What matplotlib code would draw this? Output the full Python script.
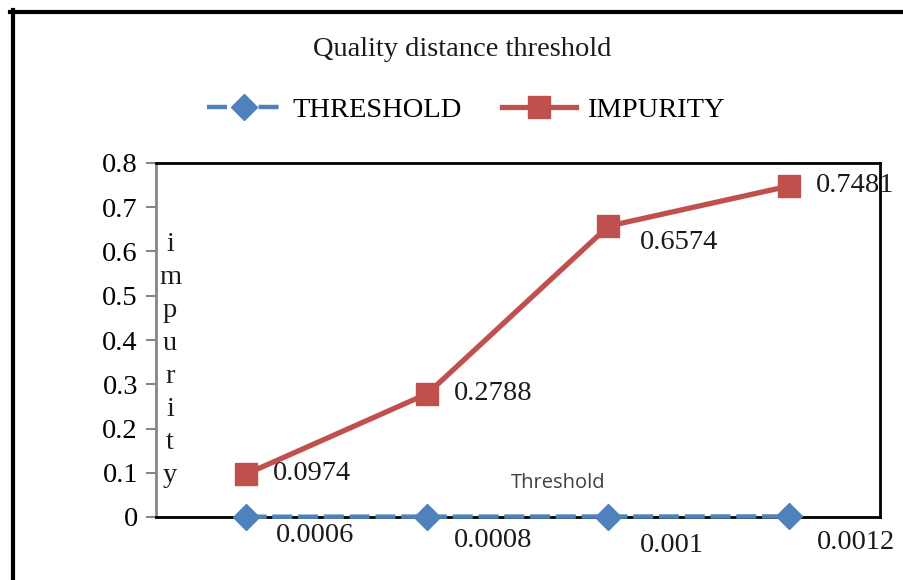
import numpy as np
import matplotlib.pyplot as plt
from matplotlib.lines import Line2D

# data
thresholds = [0.0006, 0.0008, 0.001, 0.0012]
threshold_labels = ['0.0006', '0.0008', '0.001', '0.0012']
impurity = [0.0974, 0.2788, 0.6574, 0.7481]
impurity_labels = ['0.0974', '0.2788', '0.6574', '0.7481']

blue = '#4F81BD'
red = '#C0504D'
serif = 'Liberation Serif'
fs = 20.5

plt.rcParams['font.family'] = serif

fig = plt.figure(figsize=(9.04, 5.8), dpi=100)
ax = fig.add_axes([156/904, 1-517/580, 724/904, 354/580])

x = np.arange(len(thresholds))
ax.plot(x, thresholds, color=blue, lw=3.2, ls=(0, (4.5, 1.3)), marker='D',
        ms=13, mec=blue, label='THRESHOLD', zorder=4, clip_on=False)
ax.plot(x, impurity, color=red, lw=3.8, marker='s', ms=16, mec=red,
        label='IMPURITY', zorder=5, clip_on=False)

# data labels for impurity
offs = [(26, 0), (26, 0), (31, -16), (26, 0)]
for i, (v, lab) in enumerate(zip(impurity, impurity_labels)):
    ax.annotate(lab, (x[i], v), xytext=offs[i], textcoords='offset pixels',
                ha='left', va='center', fontsize=fs, color='#1a1a1a')

# data labels for threshold (below-right of the points)
toffs = [(69, -19), (66, -24), (63, -29), (67, -26)]
for i, (v, lab) in enumerate(zip(thresholds, threshold_labels)):
    ax.annotate(lab, (x[i], v), xytext=toffs[i], textcoords='offset pixels',
                ha='center', va='center', fontsize=fs, color='#1a1a1a')

ax.set_xlim(-0.5, 3.5)
ax.set_ylim(0, 0.8)
ax.set_yticks(np.arange(0, 0.81, 0.1))
ax.set_yticklabels(['0'] + ['%.1f' % t for t in np.arange(0.1, 0.81, 0.1)])
ax.set_xticks([])
ax.tick_params(axis='y', direction='out', length=7, width=1.5, color='#868686',
               labelsize=fs, pad=6)
for s in ['top', 'right', 'bottom']:
    ax.spines[s].set_color('black')
    ax.spines[s].set_linewidth(2)
ax.spines['left'].set_color('#868686')
ax.spines['left'].set_linewidth(2)

# vertical letter-by-letter y label
ax.text(170/904, 1-360/580, 'i\nm\np\nu\nr\ni\nt\ny', transform=fig.transFigure,
        ha='center', va='center', fontsize=fs, linespacing=1.42, color='#1a1a1a')

# axis title inside plot
fig.text(558/904, 1-483/580, 'Threshold', fontsize=14.5, family='Open Sans',
         color='#404040', ha='center', va='center')

fig.text(462/904, 1-50/580, 'Quality distance threshold', fontsize=fs,
         ha='center', va='center', color='#1a1a1a')

fig.legend(loc='center', bbox_to_anchor=(466/904, 1-110/580), ncol=2,
           frameon=False, fontsize=fs, handlelength=2.6, handletextpad=0.4,
           columnspacing=1.4)

# outer border (left and top edges visible)
fig.add_artist(Line2D([10/904, 1], [1-12/580, 1-12/580], color='black',
                      lw=3, transform=fig.transFigure))
fig.add_artist(Line2D([13/904, 13/904], [0, 1-10/580], color='black',
                      lw=3, transform=fig.transFigure))

fig.savefig('out.png', dpi=100)
